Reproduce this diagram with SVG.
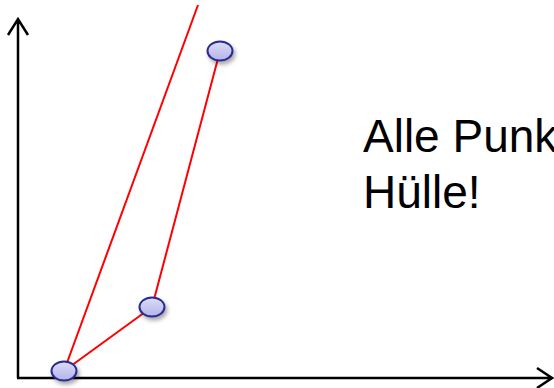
<svg xmlns="http://www.w3.org/2000/svg" width="554" height="388" viewBox="0 0 554 388">
  <defs>
    <linearGradient id="pt" x1="0" y1="0" x2="0" y2="1">
      <stop offset="0" stop-color="#dcdcf7"/>
      <stop offset="1" stop-color="#b4b4ea"/>
    </linearGradient>
    <filter id="sh" x="-50%" y="-50%" width="200%" height="200%">
      <feDropShadow dx="2" dy="3" stdDeviation="2" flood-color="#000" flood-opacity="0.35"/>
    </filter>
    <style>
      .axis { fill: none; stroke: #000; stroke-width: 2.5; }
      .hull { fill: none; stroke: #ff0000; stroke-width: 2; }
      .pt { fill: url(#pt); stroke: #2b2b8f; stroke-width: 2; filter: url(#sh); }
      .txt { font-family: "Liberation Sans", Arial, sans-serif; font-size: 46px; fill: #000; }
    </style>
  </defs>
  <g id="axes">
    <path class="axis" d="M18,378 V19 M8,35 L18,19 L28,35"/>
    <path class="axis" d="M17,378 H552 M537,368 L552,378 L537,388"/>
  </g>
  <g id="connectors">
    <line class="hull" x1="64" y1="371" x2="198" y2="5"/>
    <line class="hull" x1="220" y1="51" x2="152" y2="307"/>
    <line class="hull" x1="152" y1="307" x2="64" y2="371"/>
  </g>
  <g id="p1"><ellipse class="pt" cx="220" cy="51" rx="12.5" ry="9.5"/></g>
  <g id="p2"><ellipse class="pt" cx="152" cy="307" rx="12.5" ry="9.5"/></g>
  <g id="p3"><ellipse class="pt" cx="64" cy="371" rx="12.5" ry="9.5"/></g>
  <g id="label">
    <text class="txt" x="363" y="152">Alle Punk</text>
    <text class="txt" x="363" y="208">Hülle!</text>
  </g>
</svg>
